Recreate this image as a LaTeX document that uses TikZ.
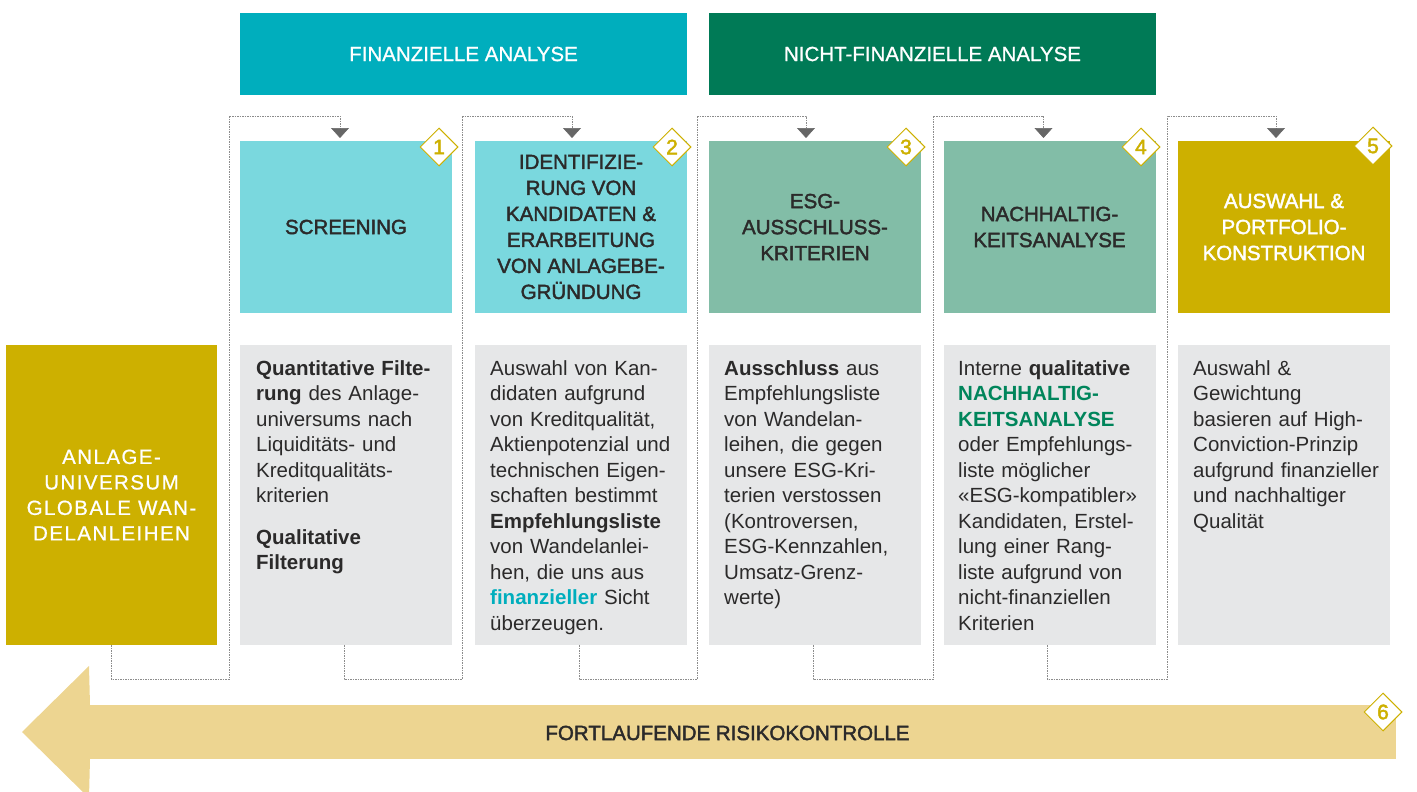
\documentclass[tikz,border=0pt]{standalone}
\usepackage{fontspec}
\setmainfont{Liberation Sans}
\newfontfamily\medfont{Liberation Sans}[FakeBold=2]
\newfontfamily\lightmed{Liberation Sans}[FakeBold=0.8]
\usetikzlibrary{arrows.meta,shapes.geometric}
\definecolor{tealH}{HTML}{00AEBD}
\definecolor{greenH}{HTML}{007A56}
\definecolor{cyanL}{HTML}{7AD8DE}
\definecolor{sage}{HTML}{82BDA7}
\definecolor{gold}{HTML}{CDB000}
\definecolor{lgold}{HTML}{EDD591}
\definecolor{grayB}{HTML}{E6E7E8}
\definecolor{txt}{HTML}{2B2A2A}
\definecolor{grnT}{HTML}{00855B}
\definecolor{dotgray}{HTML}{8C8C8C}
\definecolor{arrgray}{HTML}{666666}
\tikzset{
 hdr/.style={rectangle, inner sep=0pt, outer sep=0pt, minimum width=447pt, minimum height=82pt, text=white, font=\lightmed\fontsize{20.5}{26}\selectfont},
 ttl/.style={rectangle, inner sep=0pt, outer sep=0pt, minimum width=212pt, minimum height=172pt, align=center, text=txt, font=\medfont\fontsize{20.5}{26}\selectfont},
 gbox/.style={rectangle, fill=grayB, inner sep=0pt, outer sep=0pt, minimum width=212pt, minimum height=300pt},
 desc/.style={anchor=north west, inner sep=0pt, align=left, text width=205pt, text=txt, font=\fontsize{20.5}{25.5}\selectfont},
 num/.style={diamond, draw=gold, fill=white, line width=1pt, inner sep=0pt, minimum width=38pt, minimum height=38pt, text=gold, font=\medfont\fontsize{21}{21}\selectfont},
 conn/.style={draw=dotgray, line width=1pt, dash pattern=on 1.5pt off 1pt, -{Triangle[width=18pt,length=10pt,fill=arrgray,color=arrgray,line width=0.5pt]}, shorten >=3pt},
}
\begin{document}
\begin{tikzpicture}[x=1pt,y=-1pt]
\useasboundingbox (0,0) rectangle (1417,792);
\clip (0,0) rectangle (1417,792);

% headers
\node[hdr, fill=tealH] (h1) at (463.5,54) {FINANZIELLE ANALYSE};
\node[hdr, fill=greenH] (h2) at (932.5,54) {NICHT-FINANZIELLE ANALYSE};

% title boxes
\node[ttl, fill=cyanL] (t1) at (346,227) {SCREENING};
\node[ttl, fill=cyanL] (t2) at (581,227) {IDENTIFIZIE-\\RUNG VON\\KANDIDATEN \&\\ERARBEITUNG\\VON ANLAGEBE-\\GRÜNDUNG};
\node[ttl, fill=sage] (t3) at (815,227) {ESG-\\AUSSCHLUSS-\\KRITERIEN};
\node[ttl, fill=sage] (t4) at (1049.5,227) {NACHHALTIG-\\KEITSANALYSE};
\node[ttl, fill=gold, text=white] (t5) at (1284,227) {AUSWAHL \&\\PORTFOLIO-\\KONSTRUKTION};

% universe box
\node[rectangle, fill=gold, inner sep=0pt, outer sep=0pt, minimum width=211pt, minimum height=300pt, align=center, text=white,
      font=\lightmed\addfontfeature{LetterSpace=7}\fontsize{20.5}{25.5}\selectfont] (ub) at (111.5,495)
      {ANLAGE-\\UNIVERSUM\\GLOBALE WAN-\\DELANLEIHEN};

% description boxes
\node[gbox] (d1) at (346,495) {};
\node[gbox] (d2) at (581,495) {};
\node[gbox] (d3) at (815,495) {};
\node[gbox] (d4) at (1049.5,495) {};
\node[gbox] (d5) at (1284,495) {};

\node[desc] (x1) at (256,357) {\strut\textbf{Quantitative Filte-}\\\textbf{rung} des Anlage-\\universums nach\\Liquiditäts- und\\Kreditqualitäts-\\kriterien\\[16pt]\textbf{Qualitative}\\\textbf{Filterung}};
\node[desc] (x2) at (490,357) {\strut Auswahl von Kan-\\didaten aufgrund\\von Kreditqualität,\\Aktienpotenzial und\\technischen Eigen-\\schaften bestimmt\\\textbf{Empfehlungsliste}\\von Wandelanlei-\\hen, die uns aus\\\textcolor{tealH}{\textbf{finanzieller}} Sicht\\überzeugen.};
\node[desc] (x3) at (724,357) {\strut\textbf{Ausschluss} aus\\Empfehlungsliste\\von Wandelan-\\leihen, die gegen\\unsere ESG-Kri-\\terien verstossen\\(Kontroversen,\\ESG-Kennzahlen,\\Umsatz-Grenz-\\werte)};
\node[desc] (x4) at (958,357) {\strut Interne \textbf{qualitative}\\\textcolor{grnT}{\textbf{NACHHALTIG-}}\\\textcolor{grnT}{\textbf{KEITSANALYSE}}\\oder Empfehlungs-\\liste möglicher\\«ESG-kompatibler»\\Kandidaten, Erstel-\\lung einer Rang-\\liste aufgrund von\\nicht-finanziellen\\Kriterien};
\node[desc] (x5) at (1193,357) {\strut Auswahl \&\\Gewichtung\\basieren auf High-\\Conviction-Prinzip\\aufgrund finanzieller\\und nachhaltiger\\Qualität};

% gutter coordinates
\coordinate (g0b) at (229,679);  \coordinate (g0t) at (229,116);
\coordinate (g1b) at (462,679);  \coordinate (g1t) at (462,116);
\coordinate (g2b) at (697,679);  \coordinate (g2t) at (697,116);
\coordinate (g3b) at (933,679);  \coordinate (g3t) at (933,116);
\coordinate (g4b) at (1167,679); \coordinate (g4t) at (1167,116);

% connectors
\draw[conn] (ub.south) |- (g0b) -- (g0t) -| ([xshift=-6pt]t1.north);
\draw[conn] ([xshift=-2pt]d1.south) |- (g1b) -- (g1t) -| ([xshift=-9pt]t2.north);
\draw[conn] ([xshift=-2pt]d2.south) |- (g2b) -- (g2t) -| ([xshift=-9pt]t3.north);
\draw[conn] ([xshift=-2pt]d3.south) |- (g3b) -- (g3t) -| ([xshift=-6pt]t4.north);
\draw[conn] ([xshift=-2pt]d4.south) |- (g4b) -- (g4t) -| ([xshift=-8pt]t5.north);

% risk arrow
\fill[lgold] (90,705) -- (89,666) -- (22,732) -- (89,798) -- (90,759) -- cycle;
\node[rectangle, fill=lgold, inner sep=0pt, outer sep=0pt, minimum width=1307pt, minimum height=54pt] (rk) at (742.5,732) {};
\node[text=txt, font=\medfont\fontsize{20.5}{26}\selectfont, inner sep=0pt] (rkl) at (727.5,733) {FORTLAUFENDE RISIKOKONTROLLE};

% number diamonds
\node[num] (n1) at (439,147) {1};
\node[num] (n2) at (672,147) {2};
\node[num] (n3) at (906,147) {3};
\node[num] (n4) at (1141,147) {4};
\node[num] (n5) at (1373,146) {5};
\node[num] (n6) at (1383,712) {6};
\end{tikzpicture}
\end{document}
